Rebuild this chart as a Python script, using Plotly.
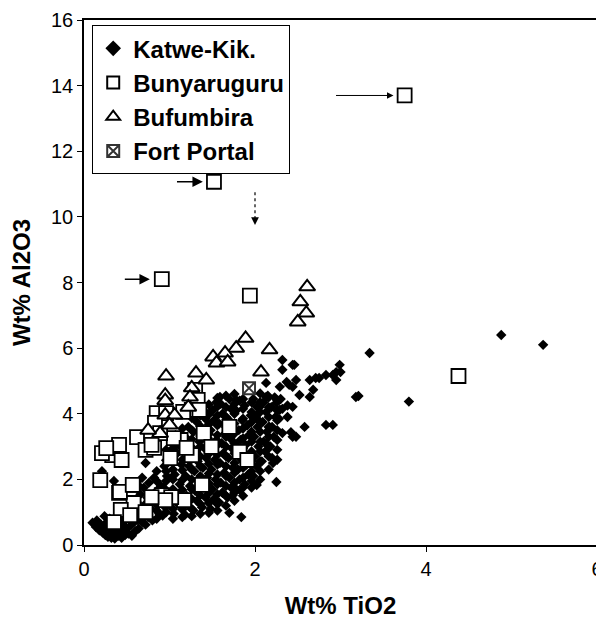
import plotly.graph_objects as go

# ---------------- data ----------------
# Katwe-Kikorongo: outer / scattered points
katwe_x1 = [
    0.10, 0.14, 0.18, 0.22, 0.25, 0.28, 0.32, 0.36, 0.40, 0.44, 0.48, 0.52, 0.56, 0.60, 0.64,
    0.20, 0.26, 0.30, 0.34, 0.38, 0.42, 0.46, 0.50, 0.55, 0.30, 0.24, 0.38, 0.45, 0.55, 0.62,
    0.68, 0.72, 0.70, 0.75, 0.40, 0.52, 0.60,
    0.15, 0.25, 0.35, 0.45, 0.58, 0.33, 0.48, 0.62, 0.80,
    0.21, 0.35, 0.72, 0.68,
    0.62, 0.66, 0.70, 0.74, 0.78, 0.80, 0.84, 0.86, 0.88, 0.70, 0.76, 0.82, 0.90, 0.64,
    1.59, 1.78, 2.13, 2.37, 2.48, 2.64, 2.71, 2.83, 2.95, 2.99, 2.32, 2.44, 2.32,
    2.44, 2.58, 2.83, 2.91, 2.25, 2.02, 1.70, 1.84, 2.21, 2.20, 3.18, 2.02, 2.25,
    2.68, 2.29, 2.13, 2.44, 2.52, 2.64, 2.29, 2.38, 2.17, 2.32, 2.44, 2.13,
    2.46, 3.00, 2.95, 2.75, 2.40, 2.91, 1.74, 1.82, 1.62, 2.42, 2.48,
    2.28, 2.32, 2.30, 2.38,
    3.34, 4.88, 5.37, 3.21, 3.80,
]
katwe_y1 = [
    0.68, 0.55, 0.45, 0.38, 0.30, 0.25, 0.22, 0.20, 0.28, 0.22, 0.30, 0.35, 0.28, 0.42, 0.50,
    0.62, 0.55, 0.48, 0.40, 0.50, 0.45, 0.55, 0.50, 0.60, 0.80, 0.88, 0.75, 0.80, 0.85, 0.75,
    0.70, 0.62, 0.95, 0.85, 1.00, 1.05, 1.10,
    0.75, 0.65, 0.65, 0.65, 0.70, 0.32, 0.42, 0.95, 0.75,
    2.25, 1.95, 2.50, 2.05,
    1.30, 1.55, 1.20, 1.45, 1.10, 1.35, 1.60, 1.20, 0.95, 1.75, 1.90, 2.05, 1.80, 1.80,
    4.51, 4.42, 4.51, 4.97, 5.03, 5.03, 5.09, 5.18, 5.27, 5.49, 5.64, 5.49, 5.34,
    4.21, 3.60, 3.66, 3.66, 1.92, 1.83, 0.98, 0.85, 2.50, 2.65, 4.51, 4.21, 4.33,
    4.73, 4.82, 4.94, 4.82, 4.57, 4.51, 4.12, 3.90, 3.60, 3.41, 3.30, 3.10,
    5.49, 5.27, 5.03, 5.09, 4.88, 5.18, 1.52, 1.68, 1.59, 3.44, 3.30,
    3.85, 4.15, 4.45, 4.25,
    5.85, 6.40, 6.10, 4.54, 4.37,
]
# Katwe-Kikorongo: dense core, first pass
katwe_x2 = [
    0.92, 0.95, 0.98, 0.93, 0.97, 0.94, 1.00,
    1.05, 1.10, 1.08, 1.12, 1.06, 1.14, 1.09, 1.13, 1.07,
    1.18, 1.22, 1.20, 1.24, 1.19, 1.23, 1.21, 1.25, 1.18, 1.22,
    1.28, 1.32, 1.30, 1.34, 1.29, 1.33, 1.31, 1.35, 1.28, 1.32,
    1.38, 1.42, 1.40, 1.44, 1.39, 1.43, 1.41, 1.45, 1.38, 1.42, 1.40,
    1.48, 1.52, 1.50, 1.54, 1.49, 1.53, 1.51, 1.55, 1.48, 1.52, 1.50, 1.55,
    1.58, 1.62, 1.60, 1.64, 1.59, 1.63, 1.61, 1.65, 1.58, 1.62, 1.60,
    1.68, 1.72, 1.70, 1.74, 1.69, 1.73, 1.71, 1.75, 1.68, 1.72, 1.70,
    1.78, 1.82, 1.80, 1.84, 1.79, 1.83, 1.81, 1.85, 1.78, 1.82,
    1.88, 1.92, 1.90, 1.94, 1.89, 1.93, 1.91, 1.95, 1.88,
    1.98, 2.02, 2.00, 2.04, 1.99, 2.03, 2.01, 2.05, 1.98,
    2.08, 2.12, 2.10, 2.14, 2.09, 2.13, 2.10, 2.15,
    2.18, 2.22, 2.20, 2.24, 2.19, 2.23,
]
katwe_y2 = [
    0.90, 1.15, 1.50, 1.75, 2.10, 2.40, 2.75,
    0.95, 1.25, 1.55, 1.85, 2.15, 2.45, 2.80, 3.10, 3.35,
    0.92, 1.20, 1.50, 1.80, 2.10, 2.40, 2.70, 3.00, 3.30, 3.60,
    1.05, 1.35, 1.65, 1.95, 2.25, 2.55, 2.85, 3.15, 3.45, 3.75,
    1.15, 1.45, 1.75, 2.05, 2.35, 2.65, 2.95, 3.25, 3.55, 3.85, 4.10,
    1.10, 1.40, 1.70, 2.00, 2.30, 2.60, 2.90, 3.20, 3.50, 3.80, 4.10, 4.35,
    1.30, 1.60, 1.90, 2.20, 2.50, 2.80, 3.10, 3.40, 3.70, 4.00, 4.30,
    1.45, 1.75, 2.05, 2.35, 2.65, 2.95, 3.25, 3.55, 3.85, 4.15, 4.45,
    1.70, 2.00, 2.30, 2.60, 2.90, 3.20, 3.50, 3.80, 4.10, 4.40,
    1.85, 2.15, 2.45, 2.75, 3.05, 3.35, 3.65, 3.95, 4.25,
    2.10, 2.40, 2.70, 3.00, 3.30, 3.60, 3.90, 4.20, 4.45,
    2.55, 2.85, 3.15, 3.45, 3.75, 4.05, 4.35, 4.55,
    3.00, 3.30, 3.60, 3.90, 4.20, 4.50,
]
# Katwe-Kikorongo: dense core, second pass (fills gaps)
katwe_x3 = [
    0.85, 0.85, 0.85, 0.85, 0.85, 0.85,
    0.96, 0.96, 0.96, 0.96, 0.96, 0.96, 0.96,
    1.04, 1.04, 1.04, 1.04, 1.04, 1.04, 1.04, 1.04, 1.04,
    1.15, 1.15, 1.15, 1.15, 1.15, 1.15, 1.15, 1.15, 1.15, 1.15,
    1.26, 1.26, 1.26, 1.26, 1.26, 1.26, 1.26, 1.26, 1.26, 1.26, 1.26,
    1.36, 1.36, 1.36, 1.36, 1.36, 1.36, 1.36, 1.36, 1.36, 1.36, 1.36, 1.36,
    1.46, 1.46, 1.46, 1.46, 1.46, 1.46, 1.46, 1.46, 1.46, 1.46, 1.46, 1.46,
    1.56, 1.56, 1.56, 1.56, 1.56, 1.56, 1.56, 1.56, 1.56, 1.56, 1.56, 1.56, 1.56,
    1.66, 1.66, 1.66, 1.66, 1.66, 1.66, 1.66, 1.66, 1.66, 1.66, 1.66, 1.66,
    1.76, 1.76, 1.76, 1.76, 1.76, 1.76, 1.76, 1.76, 1.76, 1.76, 1.76, 1.76,
    1.86, 1.86, 1.86, 1.86, 1.86, 1.86, 1.86, 1.86, 1.86, 1.86, 1.86,
    1.96, 1.96, 1.96, 1.96, 1.96, 1.96, 1.96, 1.96, 1.96, 1.96,
    2.06, 2.06, 2.06, 2.06, 2.06, 2.06, 2.06, 2.06, 2.06, 2.06,
    2.16, 2.16, 2.16, 2.16, 2.16, 2.16, 2.16, 2.16,
    2.26, 2.26, 2.26, 2.26, 2.26, 2.26, 2.26,
]
katwe_y3 = [
    0.80, 1.05, 1.40, 1.65, 1.95, 2.25,
    1.00, 1.32, 1.62, 1.95, 2.25, 2.58, 2.90,
    0.80, 1.10, 1.40, 1.70, 2.00, 2.30, 2.62, 2.95, 3.22,
    0.85, 1.08, 1.38, 1.68, 1.98, 2.28, 2.60, 2.95, 3.25, 3.55,
    0.88, 1.10, 1.40, 1.70, 2.00, 2.30, 2.62, 2.92, 3.22, 3.50, 3.88,
    0.95, 1.25, 1.52, 1.80, 2.10, 2.40, 2.70, 3.00, 3.32, 3.62, 3.95, 4.20,
    0.98, 1.28, 1.58, 1.88, 2.18, 2.48, 2.78, 3.08, 3.38, 3.68, 3.98, 4.28,
    1.05, 1.25, 1.55, 1.85, 2.15, 2.45, 2.75, 3.05, 3.35, 3.65, 3.95, 4.22, 4.48,
    1.20, 1.50, 1.80, 2.10, 2.40, 2.70, 3.00, 3.30, 3.60, 3.90, 4.20, 4.55,
    1.35, 1.60, 1.90, 2.20, 2.50, 2.80, 3.10, 3.40, 3.70, 4.00, 4.30, 4.60,
    1.50, 1.75, 2.05, 2.35, 2.65, 2.95, 3.25, 3.55, 3.85, 4.15, 4.45,
    1.75, 1.95, 2.25, 2.55, 2.85, 3.15, 3.45, 3.75, 4.05, 4.35,
    2.00, 2.25, 2.55, 2.85, 3.15, 3.45, 3.75, 4.05, 4.35, 4.62,
    2.30, 2.70, 3.00, 3.30, 3.60, 3.90, 4.20, 4.50,
    2.60, 2.90, 3.20, 3.50, 3.80, 4.10, 4.40,
]
katwe_x = katwe_x1 + katwe_x2 + katwe_x3
katwe_y = katwe_y1 + katwe_y2 + katwe_y3

bunya_x = [
    3.75, 1.52, 0.91, 1.94, 4.38,
    0.33, 0.41, 0.44, 0.21, 0.26, 0.19, 0.58, 0.41, 0.58, 0.43, 0.35, 0.54, 0.72,
    0.91, 1.17, 1.02, 1.38, 0.62, 0.72, 0.82, 1.01, 1.13, 1.26, 1.40, 1.49, 1.05,
    1.70, 1.82, 1.91, 0.85, 0.96, 1.30, 1.33, 1.26, 1.35, 1.16, 0.83, 0.89, 0.79,
    1.20, 0.95, 0.79, 0.42, 0.57,
]
bunya_y = [
    13.70, 11.07, 8.10, 7.60, 5.15,
    2.74, 3.05, 2.59, 2.80, 2.95, 1.98, 1.83, 1.59, 1.28, 1.07, 0.70, 0.91, 1.00,
    1.52, 1.37, 1.46, 1.83, 3.29, 2.90, 2.96, 2.65, 3.20, 2.74, 3.41, 2.99, 3.26,
    3.60, 2.84, 2.59, 4.02, 4.02, 4.73, 4.42, 4.12, 4.12, 4.06, 3.72, 3.41, 3.05,
    2.96, 1.37, 1.46, 1.62, 1.83,
]

bufum_x = [
    2.61, 2.53, 2.60, 2.50,
    1.89, 1.78, 1.65, 1.51, 1.55, 1.68, 2.17, 2.07,
    0.96, 1.31, 1.43, 0.95, 0.95, 0.95, 1.26, 1.24, 1.22, 1.06, 0.89, 0.75, 1.00,
]
bufum_y = [
    7.87, 7.41, 7.07, 6.80,
    6.30, 6.00, 5.85, 5.73, 5.55, 5.58, 5.95, 5.27,
    5.15, 5.24, 5.03, 4.57, 4.40, 3.96, 4.79, 4.51, 4.20, 3.96, 3.40, 3.50, 3.66,
]

fort_x = [1.93]
fort_y = [4.78]

x_ticks = [0, 2, 4, 6]
y_ticks = [0, 2, 4, 6, 8, 10, 12, 14, 16]

FONT = "Arial, Liberation Sans, Helvetica, sans-serif"

fig = go.Figure()

fig.add_trace(go.Scatter(
    x=katwe_x, y=katwe_y, mode="markers", name="Katwe-Kik.",
    marker=dict(symbol="diamond", size=8, color="black", line=dict(width=0)),
))
fig.add_trace(go.Scatter(
    x=bunya_x, y=bunya_y, mode="markers", name="Bunyaruguru",
    marker=dict(symbol="square", size=14, color="white", line=dict(width=1.8, color="black")),
))
fig.add_trace(go.Scatter(
    x=bufum_x, y=bufum_y, mode="markers", name="Bufumbira",
    marker=dict(symbol="triangle-up", size=14, color="white", line=dict(width=2, color="black")),
))
fig.add_trace(go.Scatter(
    x=fort_x, y=fort_y, mode="markers", name="Fort Portal",
    marker=dict(symbol="square-x", size=12, color="white", line=dict(width=2, color="#333")),
))

# arrows pointing at outliers
arrows = [
    dict(x=3.62, y=13.70, ax=2.93, ay=13.70, w=1.0),
    dict(x=1.39, y=11.07, ax=1.07, ay=11.07, w=1.6),
    dict(x=0.77, y=8.10, ax=0.46, ay=8.10, w=1.6),
]
for a in arrows:
    fig.add_annotation(x=a["x"], y=a["y"], ax=a["ax"], ay=a["ay"], xref="x", yref="y",
                       axref="x", ayref="y", text="", showarrow=True, arrowhead=2,
                       arrowsize=1.3, arrowwidth=a["w"], arrowcolor="black")
# dashed downward arrow
fig.add_shape(type="line", xref="x", yref="y", x0=2.0, x1=2.0, y0=10.75, y1=10.0,
              line=dict(color="black", width=1.2, dash="dot"))
fig.add_annotation(x=2.0, y=9.75, ax=2.0, ay=10.05, xref="x", yref="y", axref="x", ayref="y",
                   text="", showarrow=True, arrowhead=2, arrowsize=1.3, arrowwidth=1.2,
                   arrowcolor="black")

fig.update_layout(
    width=596, height=615,
    margin=dict(l=76, r=7, t=12, b=78),
    paper_bgcolor="white", plot_bgcolor="white",
    font=dict(family=FONT, size=20, color="black"),
    showlegend=True,
    legend=dict(
        x=0.016, y=0.99, xanchor="left", yanchor="top",
        bgcolor="white", bordercolor="black", borderwidth=1,
        font=dict(family=FONT, size=24, color="black", weight="bold"),
        tracegroupgap=0, itemsizing="constant",
    ),
    xaxis=dict(
        range=[0, 6], tickvals=x_ticks, ticktext=[str(v) for v in x_ticks],
        showgrid=False, zeroline=False, showline=True, linecolor="black", linewidth=1.5,
        mirror=True, ticks="outside", ticklen=5, tickcolor="black", automargin=False,
        tickfont=dict(family=FONT, size=20),
        title=dict(text="<b>Wt% TiO2</b>", font=dict(family=FONT, size=24), standoff=18),
    ),
    yaxis=dict(
        range=[0, 16], tickvals=y_ticks, ticktext=[str(v) for v in y_ticks],
        showgrid=False, zeroline=False, showline=True, linecolor="black", linewidth=1.5,
        mirror=True, ticks="outside", ticklen=5, tickcolor="black", automargin=False,
        tickfont=dict(family=FONT, size=20),
        title=dict(text="<b>Wt% Al2O3</b>", font=dict(family=FONT, size=24), standoff=24),
    ),
)

fig.write_html("out.html")
